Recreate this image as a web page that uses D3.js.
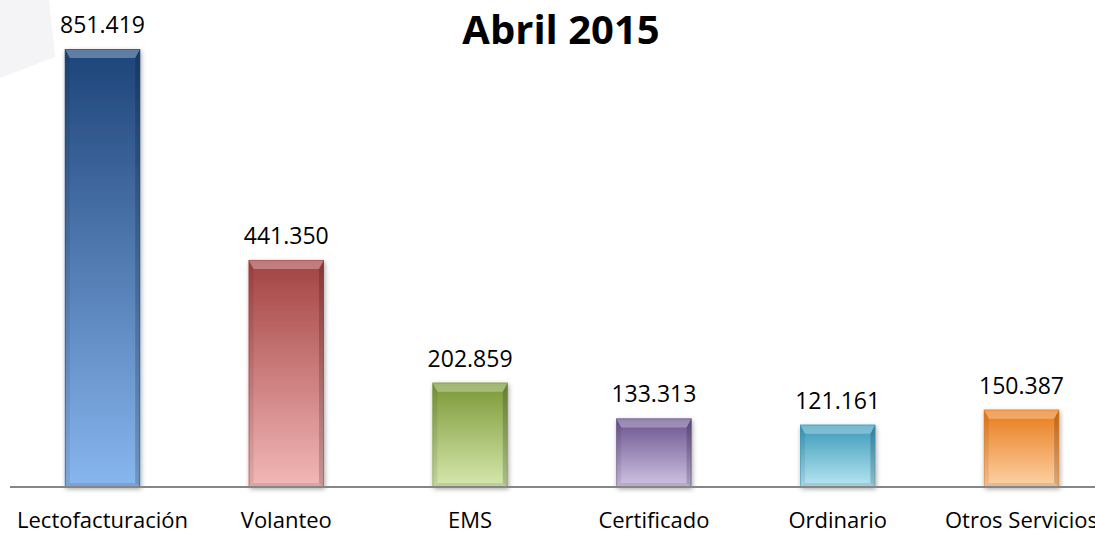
<!DOCTYPE html>
<html>
<head>
<meta charset="utf-8">
<script src="https://cdnjs.cloudflare.com/ajax/libs/d3/7.8.5/d3.min.js"></script>
<style>
  body { margin: 0; background: #fff; }
  svg { display: block; font-family: "Open Sans", "Noto Sans", sans-serif; }
</style>
</head>
<body>
<div id="chart"></div>
<script>
// data
const categories = ["Lectofacturación", "Volanteo", "EMS", "Certificado", "Ordinario", "Otros Servicios"];
const values = [851419, 441350, 202859, 133313, 121161, 150387];
const valueLabels = ["851.419", "441.350", "202.859", "133.313", "121.161", "150.387"];
const topColors = ["#1d4479", "#a34242", "#7a9836", "#69528d", "#3899b9", "#e97a18"];
const bottomColors = ["#88b6ee", "#f2b8b7", "#d6e8ad", "#d0c3e3", "#b7e6f2", "#fdd2a6"];

const width = 1095, height = 533;
const baseY = 487;

const svg = d3.select('#chart')
    .append('svg')
    .attr('width', width)
    .attr('height', height);

const defs = svg.append('defs');

// faint background shape, top left
svg.append('path')
    .attr('d', 'M0,0 L49,0 L55,57 L0,78 Z')
    .attr('fill', '#f4f4f6');

// scales
const x = d3.scaleBand()
    .domain(categories)
    .range([10.6, 1113.4])
    .paddingInner(0.59)
    .paddingOuter(0.295);

const y = d3.scaleLinear()
    .domain([0, 851419])
    .range([baseY, 49]);

// gradients
categories.forEach((c, i) => {
    const g = defs.append('linearGradient')
        .attr('id', 'grad' + i)
        .attr('x1', 0).attr('y1', 0).attr('x2', 0).attr('y2', 1);
    g.append('stop').attr('offset', '0%').attr('stop-color', topColors[i]);
    g.append('stop').attr('offset', '100%').attr('stop-color', bottomColors[i]);
});

const shadow = defs.append('filter').attr('id', 'shadow')
    .attr('x', '-20%').attr('y', '-10%').attr('width', '140%').attr('height', '130%');
shadow.append('feGaussianBlur').attr('in', 'SourceAlpha').attr('stdDeviation', 2.5);
shadow.append('feOffset').attr('dx', 1).attr('dy', 2).attr('result', 'b');
shadow.append('feComponentTransfer').append('feFuncA').attr('type', 'linear').attr('slope', 0.35);
const merge = shadow.append('feMerge');
merge.append('feMergeNode');
merge.append('feMergeNode').attr('in', 'SourceGraphic');

const bars = svg.append('g').attr('class', 'bars')
    .selectAll('g')
    .data(categories)
    .enter()
    .append('g');

const bw = x.bandwidth();
const bev = 9, side = 5;

bars.append('rect')
    .attr('x', d => x(d))
    .attr('y', (d, i) => y(values[i]))
    .attr('width', bw)
    .attr('height', (d, i) => baseY - y(values[i]))
    .attr('fill', (d, i) => `url(#grad${i})`)
    .attr('filter', 'url(#shadow)');

// bevel: top highlight
bars.append('path')
    .attr('d', (d, i) => {
        const x0 = x(d), t = y(values[i]);
        return `M${x0},${t} L${x0 + bw},${t} L${x0 + bw - side},${t + bev} L${x0 + side},${t + bev} Z`;
    })
    .attr('fill', '#fff').attr('fill-opacity', 0.3);

// bevel: left and right edges
bars.append('path')
    .attr('d', (d, i) => {
        const x0 = x(d), t = y(values[i]);
        return `M${x0},${t} L${x0 + side},${t + bev} L${x0 + side},${baseY - 4} L${x0},${baseY} Z`;
    })
    .attr('fill', '#000').attr('fill-opacity', 0.08);

bars.append('path')
    .attr('d', (d, i) => {
        const x1 = x(d) + bw, t = y(values[i]);
        return `M${x1},${t} L${x1 - side},${t + bev} L${x1 - side},${baseY - 4} L${x1},${baseY} Z`;
    })
    .attr('fill', '#000').attr('fill-opacity', 0.18);

// bevel: bottom
bars.append('path')
    .attr('d', d => {
        const x0 = x(d);
        return `M${x0},${baseY} L${x0 + side},${baseY - 4} L${x0 + bw - side},${baseY - 4} L${x0 + bw},${baseY} Z`;
    })
    .attr('fill', '#000').attr('fill-opacity', 0.1);

// bar outline
bars.append('rect')
    .attr('x', d => x(d) + 0.5)
    .attr('y', (d, i) => y(values[i]) + 0.5)
    .attr('width', bw - 1)
    .attr('height', (d, i) => baseY - y(values[i]) - 1)
    .attr('fill', 'none')
    .attr('stroke', (d, i) => topColors[i])
    .attr('stroke-opacity', 0.5);

// value labels
bars.append('text')
    .attr('x', d => x(d) + bw / 2)
    .attr('y', (d, i) => y(values[i]) - 16)
    .attr('text-anchor', 'middle')
    .attr('font-size', 23)
    .attr('fill', '#000')
    .text((d, i) => valueLabels[i]);

// axis
const axis = svg.append('g')
    .attr('transform', `translate(0,${baseY})`)
    .call(d3.axisBottom(x).tickSize(0).tickPadding(25));
axis.select('.domain')
    .attr('d', `M10,0H${width}`)
    .attr('stroke', '#868686')
    .attr('stroke-width', 2);
axis.selectAll('.tick text')
    .attr('font-family', '"Open Sans", "Noto Sans", sans-serif')
    .attr('font-size', 22)
    .attr('fill', '#000');

// title
svg.append('text')
    .attr('x', 561)
    .attr('y', 44)
    .attr('text-anchor', 'middle')
    .attr('font-size', 40)
    .attr('font-weight', 'bold')
    .text('Abril 2015');
</script>
</body>
</html>
